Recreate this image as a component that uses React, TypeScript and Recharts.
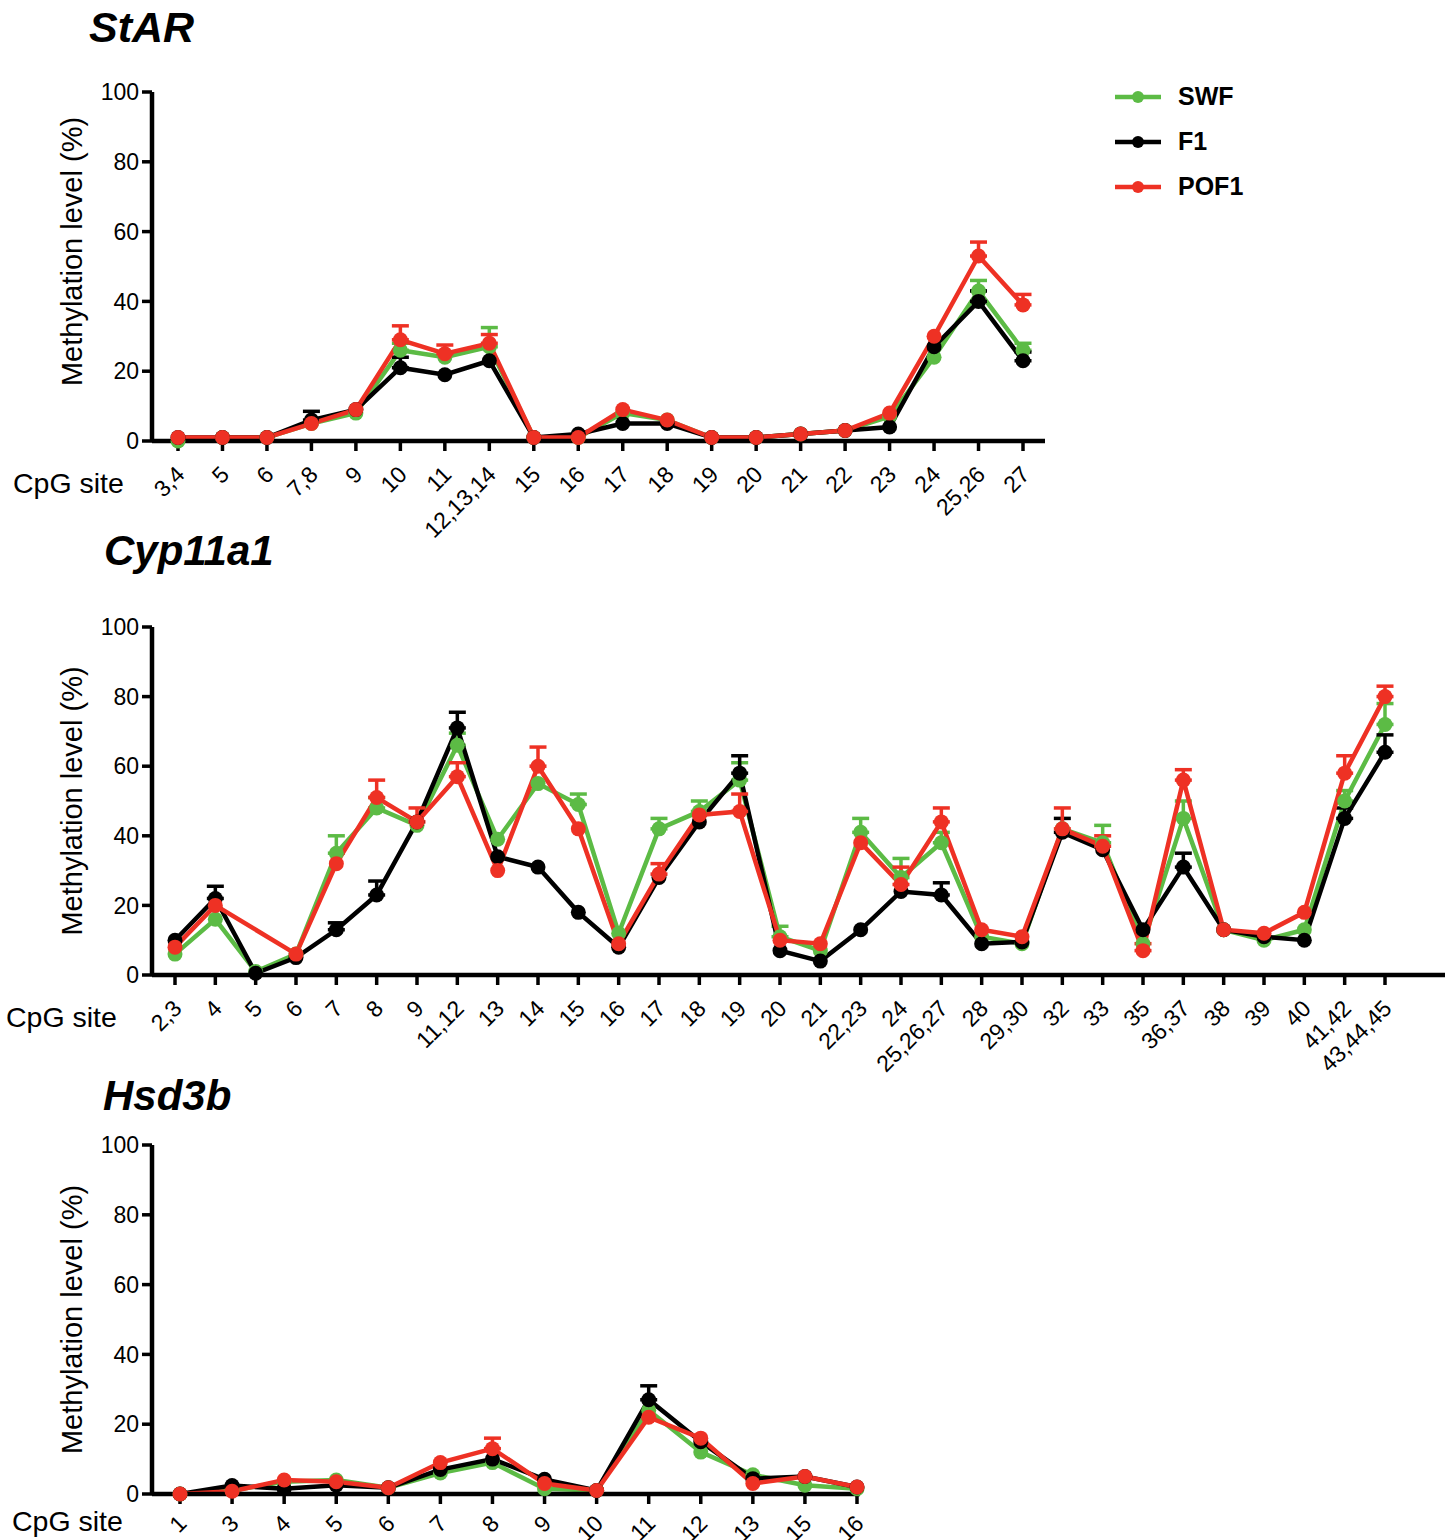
import React from "react";
import { LineChart, Line, XAxis, YAxis, ErrorBar, Legend } from "recharts";

const GREEN = "#5cbb45";
const BLACK = "#000000";
const RED = "#ee3124";
const FONT = "'Liberation Sans', Arial, Helvetica, sans-serif";

const Y_TICKS = [0, 20, 40, 60, 80, 100];

// StAR
const starSites = ["3,4", "5", "6", "7,8", "9", "10", "11", "12,13,14", "15", "16", "17", "18", "19", "20", "21", "22", "23", "24", "25,26", "27"];
const starSWF = [0, 1, 1, 5, 8, 26, 24, 27, 1, 1, 8, 6, 1, 1, 2, 3, 7, 24, 43, 26];
const starF1 = [1, 1, 1, 6, 9, 21, 19, 23, 1, 2, 5, 5, 1, 1, 2, 3, 4, 27, 40, 23];
const starPOF1 = [1, 1, 1, 5, 9, 29, 25, 28, 1, 1, 9, 6, 1, 1, 2, 3, 8, 30, 53, 39];
const starSWFErr = [null, null, null, null, null, 2, null, 5.5, null, null, null, null, null, null, null, null, null, null, 3, 2];
const starF1Err = [null, null, null, 2.5, null, 3, null, null, null, null, null, null, null, null, null, null, null, null, 3, 2.5];
const starPOF1Err = [null, null, null, null, null, 4, 2.5, 2.5, null, null, null, null, null, null, null, null, null, null, 4, 3];

// Cyp11a1
const cypSites = ["2,3", "4", "5", "6", "7", "8", "9", "11,12", "13", "14", "15", "16", "17", "18", "19", "20", "21", "22,23", "24", "25,26,27", "28", "29,30", "32", "33", "35", "36,37", "38", "39", "40", "41,42", "43,44,45"];
const cypSWF = [6, 16, 1, 6, 35, 48, 43, 66, 39, 55, 49, 12, 42, 47, 56, 11, 7, 41, 28, 38, 11, 9, 42, 38, 9, 45, 13, 10, 13, 50, 72];
const cypF1 = [10, 22, 0.5, 5, 13, 23, 44, 71, 34, 31, 18, 8, 28, 44, 58, 7, 4, 13, 24, 23, 9, 9.5, 41, 36, 13, 31, 13, 11, 10, 45, 64];
const cypPOF1 = [8, 20, null, 6, 32, 51, 44, 57, 30, 60, 42, 9, 29, 46, 47, 10, 9, 38, 26, 44, 13, 11, 42, 37, 7, 56, 13, 12, 18, 58, 80];
const cypSWFErr = [null, null, null, null, 5, 3, null, 3.5, null, null, 3, null, 3, 3, 5, 3, null, 4, 5.5, 3, null, null, null, 5, null, 5, null, null, null, 3, 6];
const cypF1Err = [null, 3.5, null, null, 2, 4, null, 4.5, null, null, null, null, null, null, 5, null, null, null, null, 3.5, null, null, 4, null, null, 4, null, null, null, 3, 5];
const cypPOF1Err = [null, null, null, null, null, 5, 4, 4, null, 5.5, null, null, 3, null, 5, null, null, null, 5, 4, null, null, 6, 3, 2, 3, null, null, null, 5, 3];

// Hsd3b
const hsdSites = ["1", "3", "4", "5", "6", "7", "8", "9", "10", "11", "12", "13", "15", "16"];
const hsdSWF = [0, 1, 3.5, 4, 1.8, 6, 9, 1.5, 1, 24, 12, 5.5, 2.5, 1.5];
const hsdF1 = [0, 2.4, 1.5, 2.5, 1.8, 7, 10, 4.2, 1, 27, 15, 4.4, 5, 2];
const hsdPOF1 = [0, 0.8, 4, 3.5, 1.8, 9, 13, 3, 1, 22, 16, 3, 5, 2];
const hsdSWFErr = [null, null, null, null, null, null, null, null, null, null, null, null, null, null];
const hsdF1Err = [null, null, null, null, null, null, null, null, null, 4, null, null, null, null];
const hsdPOF1Err = [null, null, null, null, null, null, 3, null, null, null, null, null, null, null];

const buildRows = (sites, swf, f1, pof1, swfErr, f1Err, pof1Err) =>
  sites.map((site, i) => ({
    site,
    SWF: swf[i],
    F1: f1[i],
    POF1: pof1[i],
    swfErr: swfErr[i] == null ? null : [0, swfErr[i]],
    f1Err: f1Err[i] == null ? null : [0, f1Err[i]],
    pof1Err: pof1Err[i] == null ? null : [0, pof1Err[i]],
  }));

const SiteTick = ({ x, y, payload, shift = 23 }) => (
  <text
    x={0}
    y={0}
    transform={`translate(${x + 8},${y + shift}) rotate(-45)`}
    textAnchor="end"
    fontSize={23}
    fontFamily={FONT}
    fill="#000"
  >
    {payload.value}
  </text>
);

const series = [
  { key: "SWF", err: "swfErr", color: GREEN },
  { key: "F1", err: "f1Err", color: BLACK },
  { key: "POF1", err: "pof1Err", color: RED },
];

const renderLegend = ({ payload }) => {
  const ordered = series
    .map((s) => payload.find((p) => p.value === s.key))
    .filter(Boolean);
  return (
    <div style={{ fontFamily: FONT }}>
      {ordered.map((entry) => (
        <div key={entry.value} style={{ display: "flex", alignItems: "center", height: 45 }}>
          <svg width={46} height={14}>
            <line x1={0} y1={7} x2={46} y2={7} stroke={entry.color} strokeWidth={4.5} />
            <circle cx={23} cy={7} r={6} fill={entry.color} />
          </svg>
          <span style={{ marginLeft: 17, fontWeight: "bold", fontSize: 25, color: "#000" }}>{entry.value}</span>
        </div>
      ))}
    </div>
  );
};

function Panel({ rows, width, height, top, bottomAxis, right, padLeft, padRight, labelDy, tickShift = 23, legend }) {
  return (
    <LineChart width={width} height={height} data={rows} margin={{ top, right, bottom: 0, left: 0 }}>
      <XAxis
        dataKey="site"
        interval={0}
        height={bottomAxis}
        padding={{ left: padLeft, right: padRight }}
        tickSize={10}
        tickLine={{ stroke: "#000", strokeWidth: 3.5 }}
        axisLine={{ stroke: "#000", strokeWidth: 4.5 }}
        tick={<SiteTick shift={tickShift} />}
      />
      <YAxis
        domain={[0, 100]}
        ticks={Y_TICKS}
        width={152}
        tickSize={10}
        tickMargin={3}
        tickLine={{ stroke: "#000", strokeWidth: 3.5 }}
        axisLine={{ stroke: "#000", strokeWidth: 4.5 }}
        tick={{ fontSize: 23, fill: "#000", fontFamily: FONT }}
        label={{
          value: "Methylation level (%)",
          angle: -90,
          position: "center",
          dx: -4,
          dy: labelDy,
          fontSize: 29,
          fill: "#000",
          fontFamily: FONT,
        }}
      />
      {series.map((s) => (
        <Line
          key={s.key}
          type="linear"
          dataKey={s.key}
          name={s.key}
          stroke={s.color}
          strokeWidth={4.5}
          dot={{ r: 7.5, fill: s.color, stroke: s.color, strokeWidth: 0 }}
          activeDot={false}
          connectNulls
          isAnimationActive={false}
        >
          <ErrorBar dataKey={s.err} width={8.5} strokeWidth={3.5} stroke={s.color} direction="y" />
        </Line>
      ))}
      {legend && (
        <Legend
          layout="vertical"
          align="center"
          verticalAlign="middle"
          content={renderLegend}
          wrapperStyle={{ left: 1115, top: 74, width: 200 }}
        />
      )}
    </LineChart>
  );
}

const titleStyle = {
  position: "absolute",
  fontFamily: FONT,
  fontWeight: "bold",
  fontStyle: "italic",
  lineHeight: 1,
  color: "#000",
  margin: 0,
};

const axisNameStyle = {
  position: "absolute",
  fontFamily: FONT,
  fontSize: 28.5,
  lineHeight: 1,
  color: "#000",
};

export default function App() {
  const starRows = buildRows(starSites, starSWF, starF1, starPOF1, starSWFErr, starF1Err, starPOF1Err);
  const cypRows = buildRows(cypSites, cypSWF, cypF1, cypPOF1, cypSWFErr, cypF1Err, cypPOF1Err);
  const hsdRows = buildRows(hsdSites, hsdSWF, hsdF1, hsdPOF1, hsdSWFErr, hsdF1Err, hsdPOF1Err);

  return (
    <div style={{ position: "absolute", left: 0, top: 0, width: 1455, height: 1540, background: "#fff", fontFamily: FONT, overflow: "hidden" }}>
      <div style={{ ...titleStyle, left: 89, top: 6, fontSize: 43 }}>StAR</div>
      <div style={{ position: "absolute", left: 0, top: 0 }}>
        <Panel rows={starRows} width={1300} height={570} top={92} bottomAxis={129} right={255} padLeft={26} padRight={22} labelDy={-15} legend />
      </div>
      <div style={{ ...axisNameStyle, left: 13, top: 469 }}>CpG site</div>

      <div style={{ ...titleStyle, left: 104, top: 530, fontSize: 42 }}>Cyp11a1</div>
      <div style={{ position: "absolute", left: 0, top: 540 }}>
        <Panel rows={cypRows} width={1455} height={560} top={87} bottomAxis={125} right={10} padLeft={23} padRight={60} labelDy={0} />
      </div>
      <div style={{ ...axisNameStyle, left: 6, top: 1003 }}>CpG site</div>

      <div style={{ ...titleStyle, left: 103, top: 1075, fontSize: 42 }}>Hsd3b</div>
      <div style={{ position: "absolute", left: 0, top: 1080 }}>
        <Panel rows={hsdRows} width={900} height={460} top={65} bottomAxis={46} right={40} padLeft={28} padRight={3} labelDy={0} tickShift={19} />
      </div>
      <div style={{ ...axisNameStyle, left: 12, top: 1507 }}>CpG site</div>
    </div>
  );
}
